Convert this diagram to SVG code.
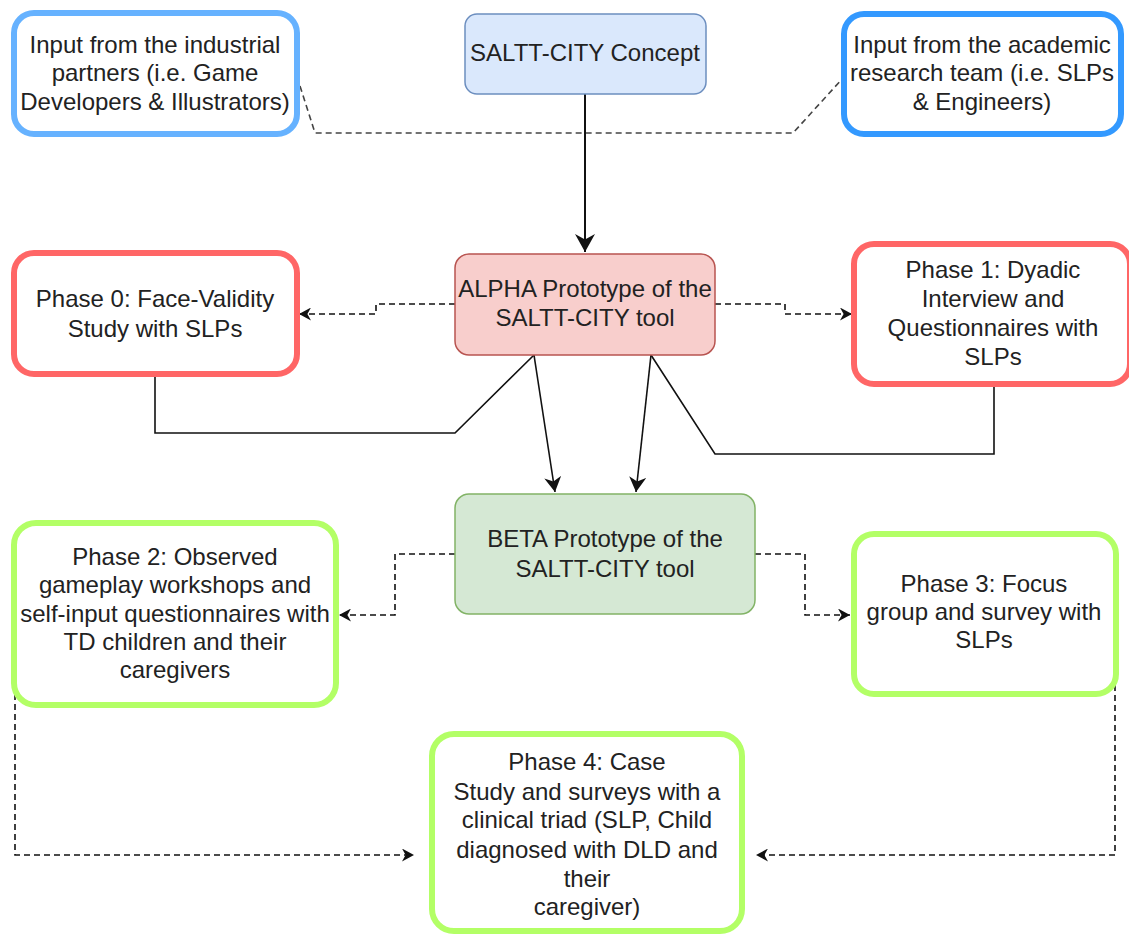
<svg xmlns="http://www.w3.org/2000/svg" width="1129" height="935" viewBox="0 0 1129 935">
  <style>
    .lbl { font-family: "Liberation Sans", Arial, sans-serif; font-size: 24px; fill: #222222; text-anchor: middle; }
    .blueL { fill: #ffffff; stroke: #66b2ff; stroke-width: 6; }
    .blueR { fill: #ffffff; stroke: #3399ff; stroke-width: 6; }
    .red { fill: #ffffff; stroke: #ff6666; stroke-width: 6; }
    .green { fill: #ffffff; stroke: #b3ff66; stroke-width: 6; }
    .concept { fill: #dae8fc; stroke: #6c8ebf; stroke-width: 1.5; }
    .alpha { fill: #f8cecc; stroke: #b85450; stroke-width: 1.5; }
    .beta { fill: #d5e8d4; stroke: #82b366; stroke-width: 1.5; }
    .edge { fill: none; stroke: #111111; stroke-width: 1.6; }
    .dash { fill: none; stroke: #111111; stroke-width: 1.6; stroke-dasharray: 6 4; }
    .dashGrey { fill: none; stroke: #444444; stroke-width: 1.6; stroke-dasharray: 6 4; }
  </style>
  <defs>
    <marker id="arrowBig" viewBox="0 0 10 10" refX="10" refY="5" markerWidth="18" markerHeight="20" markerUnits="userSpaceOnUse" orient="auto" preserveAspectRatio="none">
      <path d="M0,0 L10,5 L0,10 L3,5 Z" fill="#111111"/>
    </marker>
    <marker id="arrowMid" viewBox="0 0 10 10" refX="10" refY="5" markerWidth="15" markerHeight="17" markerUnits="userSpaceOnUse" orient="auto" preserveAspectRatio="none">
      <path d="M0,0 L10,5 L0,10 L3,5 Z" fill="#111111"/>
    </marker>
    <marker id="arrowSmall" viewBox="0 0 10 10" refX="10" refY="5" markerWidth="12" markerHeight="13" markerUnits="userSpaceOnUse" orient="auto" preserveAspectRatio="none">
      <path d="M0,0 L10,5 L0,10 L3,5 Z" fill="#111111"/>
    </marker>
  </defs>

  <rect width="1129" height="935" fill="#ffffff"/>

  <!-- connectors -->
  <g id="connectors">
    <path class="dashGrey" d="M300,86 L315,133 L793,133 L843,78"/>
    <path class="edge" style="stroke-width:2" d="M585,94 L585,252" marker-end="url(#arrowBig)"/>
    <path class="dash" d="M455,304 L376,304 L376,314 L299,314" marker-end="url(#arrowSmall)"/>
    <path class="dash" d="M715,304 L785,304 L785,314 L852,314" marker-end="url(#arrowSmall)"/>
    <path class="edge" d="M155,375 L155,433 L455,433 L534,355"/>
    <path class="edge" d="M994,385 L994,454 L715,454 L651,355"/>
    <path class="edge" d="M534,355 L555,492" marker-end="url(#arrowMid)"/>
    <path class="edge" d="M651,355 L636,492" marker-end="url(#arrowMid)"/>
    <path class="dash" d="M455,554 L395,554 L395,615 L339,615" marker-end="url(#arrowSmall)"/>
    <path class="dash" d="M755,554 L805,554 L805,615 L850,615" marker-end="url(#arrowSmall)"/>
    <path class="dash" d="M15,694 L15,855 L414,855" marker-end="url(#arrowSmall)"/>
    <path class="dash" d="M1115,615 L1115,855 L756,855" marker-end="url(#arrowSmall)"/>
  </g>

  <!-- inputs and concept -->
  <g id="input-industrial">
    <rect class="blueL" x="14" y="13" width="283" height="121" rx="20"/>
    <text class="lbl"><tspan x="155" y="53">Input from the industrial</tspan><tspan x="155" y="81">partners (i.e. Game</tspan><tspan x="155" y="110">Developers &amp; Illustrators)</tspan></text>
  </g>
  <g id="input-academic">
    <rect class="blueR" x="844" y="14" width="277" height="120" rx="20"/>
    <text class="lbl"><tspan x="982" y="53">Input from the academic</tspan><tspan x="982" y="81">research team (i.e. SLPs</tspan><tspan x="982" y="110">&amp; Engineers)</tspan></text>
  </g>
  <g id="concept">
    <rect class="concept" x="465" y="14" width="241" height="80" rx="12"/>
    <text class="lbl" x="585" y="61">SALTT-CITY Concept</text>
  </g>

  <!-- alpha stage -->
  <g id="alpha">
    <rect class="alpha" x="455" y="254" width="260" height="101" rx="14"/>
    <text class="lbl"><tspan x="585" y="297">ALPHA Prototype of the</tspan><tspan x="585" y="326">SALTT-CITY tool</tspan></text>
  </g>
  <g id="phase0">
    <rect class="red" x="14" y="253" width="283" height="121" rx="20"/>
    <text class="lbl"><tspan x="155" y="307">Phase 0: Face-Validity</tspan><tspan x="155" y="337">Study with SLPs</tspan></text>
  </g>
  <g id="phase1">
    <rect class="red" x="854" y="244" width="276" height="140" rx="20"/>
    <text class="lbl"><tspan x="993" y="278">Phase 1: Dyadic</tspan><tspan x="993" y="307">Interview and</tspan><tspan x="993" y="336">Questionnaires with</tspan><tspan x="993" y="365">SLPs</tspan></text>
  </g>

  <!-- beta stage -->
  <g id="beta">
    <rect class="beta" x="455" y="494" width="300" height="120" rx="14"/>
    <text class="lbl"><tspan x="605" y="547">BETA Prototype of the</tspan><tspan x="605" y="577">SALTT-CITY tool</tspan></text>
  </g>
  <g id="phase2">
    <rect class="green" x="14" y="523" width="322" height="182" rx="22"/>
    <text class="lbl"><tspan x="175" y="565">Phase 2: Observed</tspan><tspan x="175" y="593">gameplay workshops and</tspan><tspan x="175" y="622">self-input questionnaires with</tspan><tspan x="175" y="650">TD children and their</tspan><tspan x="175" y="678">caregivers</tspan></text>
  </g>
  <g id="phase3">
    <rect class="green" x="854" y="534" width="262" height="160" rx="20"/>
    <text class="lbl"><tspan x="984" y="592">Phase 3: Focus</tspan><tspan x="984" y="620">group and survey with</tspan><tspan x="984" y="648">SLPs</tspan></text>
  </g>
  <g id="phase4">
    <rect class="green" x="432" y="734" width="310" height="197" rx="22"/>
    <text class="lbl"><tspan x="587" y="770">Phase 4: Case</tspan><tspan x="587" y="800">Study and surveys with a</tspan><tspan x="587" y="828">clinical triad (SLP, Child</tspan><tspan x="587" y="858">diagnosed with DLD and</tspan><tspan x="587" y="887">their</tspan><tspan x="587" y="915">caregiver)</tspan></text>
  </g>
</svg>
